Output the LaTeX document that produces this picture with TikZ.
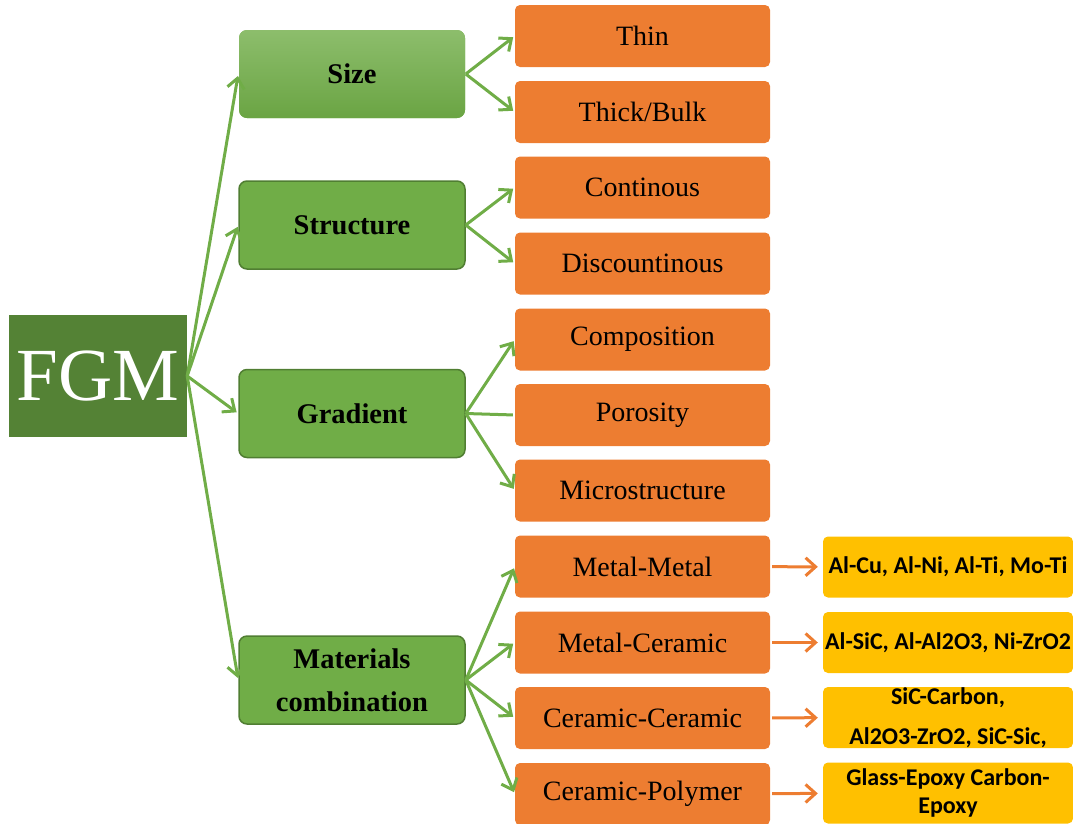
\documentclass[tikz,border=0pt]{standalone}
\usepackage{fontspec}
\setmainfont{Liberation Serif}
\newfontfamily\calibri{Carlito}
\usetikzlibrary{arrows.meta}
\definecolor{fgmgreen}{HTML}{548235}
\definecolor{boxgreen}{HTML}{70AD47}
\definecolor{edgegreen}{HTML}{507E32}
\definecolor{boxorange}{HTML}{ED7D31}
\definecolor{boxyellow}{HTML}{FFC000}
\begin{document}
\begin{tikzpicture}[x=1pt,y=-1pt]
      \useasboundingbox (0,0) rectangle (1073,823);

      \node [fill=fgmgreen, text=white, minimum width=178pt, minimum height=122pt, inner sep=0pt,
        font=\fontsize{75}{80}\selectfont] (0) at (98,376) {FGM};

      \begin{scope}[every node/.style={rectangle, rounded corners=8pt, draw=edgegreen, fill=boxgreen, line width=1.5pt,
          minimum width=226pt, minimum height=88pt, inner sep=2pt, align=center, font=\fontsize{28.5}{43}\selectfont\bfseries}]
        \node [draw=none, top color=boxgreen!80!white, bottom color=boxgreen!95!black] (1) at (352,74) {Size};
        \node (2) at (352,225) {Structure};
        \node (3) at (352,413.5) {Gradient};
        \node (4) at (352,680) {Materials\\combination};
      \end{scope}

      \begin{scope}[every node/.style={rectangle, rounded corners=5pt, fill=boxorange, minimum width=255pt,
          minimum height=62pt, inner sep=0pt, font=\fontsize{28}{32}\selectfont}]
        \node (5) at (642.5,36) {Thin};
        \node (6) at (642.5,112) {Thick/Bulk};
        \node (7) at (642.5,187.5) {Continous};
        \node (8) at (642.5,263.5) {Discountinous};
        \node (9) at (642.5,339.5) {Composition};
        \node (10) at (642.5,415) {Porosity};
        \node (11) at (642.5,490.5) {Microstructure};
        \node (12) at (642.5,566.5) {Metal-Metal};
        \node (13) at (642.5,642.5) {Metal-Ceramic};
        \node (14) at (642.5,718) {Ceramic-Ceramic};
        \node (15) at (642.5,794) {Ceramic-Polymer};
      \end{scope}

      \begin{scope}[every node/.style={rectangle, rounded corners=5pt, fill=boxyellow, minimum width=250pt,
          minimum height=61pt, inner sep=0pt, align=center, font=\calibri\bfseries\fontsize{24}{28}\selectfont}]
        \node (16) at (948,567) {Al-Cu, Al-Ni, Al-Ti, Mo-Ti};
        \node (17) at (948,642.5) {Al-SiC, Al-Al2O3, Ni-ZrO2};
        \node [font=\calibri\bfseries\fontsize{24}{40}\selectfont] (18) at (948,717.5) {SiC-Carbon,\\Al2O3-ZrO2, SiC-Sic,};
        \node (19) at (948,793) {Glass-Epoxy Carbon-\\Epoxy};
      \end{scope}

      \begin{scope}[boxgreen, line width=3pt, -{Straight Barb[length=10pt,width=17pt]}, shorten >=2pt]
        \draw (0.east) to (1.west);
        \draw (0.east) to (2.west);
        \draw (0.east) to (3.west);
        \draw (0.east) to (4.west);
        \draw (1.east) to (5.west);
        \draw (1.east) to (6.west);
        \draw (2.east) to (7.west);
        \draw (2.east) to (8.west);
        \draw (3.east) to (9.west);
        \draw [-] (3.east) to (10.west);
        \draw (3.east) to (11.west);
        \draw (4.east) to (12.west);
        \draw (4.east) to (13.west);
        \draw (4.east) to (14.west);
        \draw (4.east) to (15.west);
      \end{scope}

      \begin{scope}[boxorange, line width=3pt, -{Straight Barb[length=10pt,width=18pt]}, shorten <=2pt, shorten >=5pt]
        \draw (12) to (16);
        \draw (13) to (17);
        \draw (14) to (18);
        \draw (15) to (19);
      \end{scope}
   \end{tikzpicture}
\end{document}
